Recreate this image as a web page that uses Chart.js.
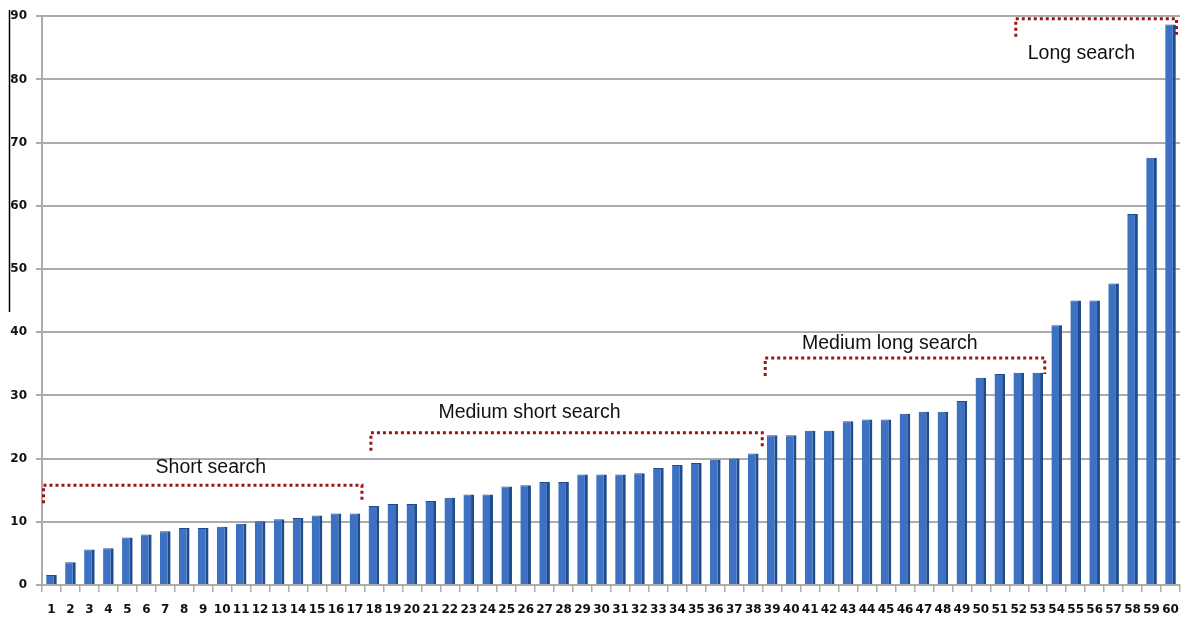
<!DOCTYPE html>
<html>
<head>
<meta charset="utf-8">
<title>Search duration</title>
<script src="https://cdn.jsdelivr.net/npm/chart.js@4.4.1/dist/chart.umd.min.js"></script>
<style>
  html, body { margin: 0; padding: 0; background: #ffffff; }
  #wrap { width: 1185px; height: 619px; position: relative; }
</style>
</head>
<body>
<div id="wrap"><canvas id="bar-chart"></canvas></div>
<script>
// categories (search number)
var categories = ['1','2','3','4','5','6','7','8','9','10',
  '11','12','13','14','15','16','17','18','19','20',
  '21','22','23','24','25','26','27','28','29','30',
  '31','32','33','34','35','36','37','38','39','40',
  '41','42','43','44','45','46','47','48','49','50',
  '51','52','53','54','55','56','57','58','59','60'];

// series values
var searchValues = [1.6, 3.6, 5.6, 5.8, 7.5, 8.0, 8.5, 9.0, 9.0, 9.2,
  9.7, 10.1, 10.4, 10.6, 11.0, 11.3, 11.3, 12.5, 12.8, 12.8,
  13.3, 13.8, 14.3, 14.3, 15.6, 15.8, 16.3, 16.3, 17.5, 17.5,
  17.5, 17.7, 18.5, 19.0, 19.3, 19.8, 20.0, 20.8, 23.7, 23.7,
  24.4, 24.4, 25.9, 26.2, 26.2, 27.1, 27.4, 27.4, 29.1, 32.8,
  33.4, 33.6, 33.6, 41.1, 45.0, 45.0, 47.7, 58.7, 67.6, 88.7];

// y tick labels
var yTicks = [0, 10, 20, 30, 40, 50, 60, 70, 80, 90];

// groups: name, first and last category index
var groupNames = ['Short search', 'Medium short search', 'Medium long search', 'Long search'];
var groupFirst = [0, 17, 38, 51];
var groupLast = [16, 37, 52, 59];

// bracket layout (value units / category units)
var bracketLevel = [15.8, 24.1, 35.9, 89.6];
var bracketInset = [[-8, 7], [-3, 9], [-7, 7], [-3, 6]];
var textAt = [[8.4, 18.6], [25.2, 27.2], [44.2, 38.2], [54.3, 84.0]];

var barBlue = '#3c71c3';
var barEdge = '#214c8c';
var gridGrey = '#acacac';
var dotRed = '#9b1414';

var groupPlugin = {
    id: 'groups',
    afterDatasetsDraw: function(chart) {
        var ctx = chart.ctx;
        var x = chart.scales.x, y = chart.scales.y;
        ctx.save();
        // stray black edge from the source image
        ctx.strokeStyle = '#000';
        ctx.lineWidth = 1.5;
        ctx.beginPath();
        ctx.moveTo(9.5, 10);
        ctx.lineTo(9.5, 312);
        ctx.stroke();

        ctx.strokeStyle = dotRed;
        ctx.lineWidth = 3;
        ctx.setLineDash([3, 3]);
        for (var i = 0; i < groupNames.length; i++) {
            var x1 = x.getPixelForValue(groupFirst[i]) + bracketInset[i][0];
            var x2 = x.getPixelForValue(groupLast[i]) + bracketInset[i][1];
            var yl = y.getPixelForValue(bracketLevel[i]);
            ctx.beginPath();
            ctx.moveTo(x1, yl + 18);
            ctx.lineTo(x1, yl);
            ctx.lineTo(x2, yl);
            ctx.lineTo(x2, yl + 16);
            ctx.stroke();
        }
        ctx.setLineDash([]);
        ctx.fillStyle = '#111';
        ctx.font = '19.5px "Liberation Sans", Arial, sans-serif';
        ctx.textAlign = 'center';
        ctx.textBaseline = 'middle';
        for (var j = 0; j < groupNames.length; j++) {
            ctx.fillText(groupNames[j], x.getPixelForValue(textAt[j][0]), y.getPixelForValue(textAt[j][1]));
        }
        ctx.restore();
    }
};

var ctx = document.getElementById('bar-chart').getContext('2d');
var barChart = new Chart(ctx, {
    type: 'bar',
    data: {
        labels: categories,
        datasets: [{
            label: 'Search time',
            data: searchValues,
            backgroundColor: barBlue,
            borderColor: barEdge,
            borderWidth: { top: 1, right: 3, bottom: 0, left: 0 },
            borderSkipped: false,
            barPercentage: 0.56,
            categoryPercentage: 1.0
        }]
    },
    options: {
        responsive: true,
        maintainAspectRatio: false,
        animation: false,
        layout: { padding: { top: 15, right: 5, left: 0, bottom: 0 } },
        plugins: {
            legend: { display: false },
            tooltip: { enabled: false }
        },
        scales: {
            x: {
                offset: true,
                grid: { display: true, drawOnChartArea: false, color: gridGrey, lineWidth: 1.5, tickLength: 7, offset: true },
                border: { color: gridGrey, width: 2 },
                ticks: {
                    autoSkip: false, maxRotation: 0, minRotation: 0, padding: 11,
                    color: '#111',
                    font: { family: '"DejaVu Sans", sans-serif', size: 12, weight: 'bold' }
                },
                afterFit: function(s) {
                    s.height = 34;
                    s.paddingLeft = 0;
                    s.paddingRight = 0;
                }
            },
            y: {
                min: 0, max: 90,
                afterBuildTicks: function(s) { s.ticks = yTicks.map(function(v) { return { value: v }; }); },
                grid: { color: gridGrey, lineWidth: 2, tickLength: 6 },
                border: { color: gridGrey, width: 2 },
                ticks: {
                    padding: 9,
                    color: '#111',
                    font: { family: '"DejaVu Sans", sans-serif', size: 12, weight: 'bold' }
                },
                afterFit: function(s) { s.width = 42; }
            }
        }
    },
    plugins: [groupPlugin]
});
</script>
</body>
</html>
